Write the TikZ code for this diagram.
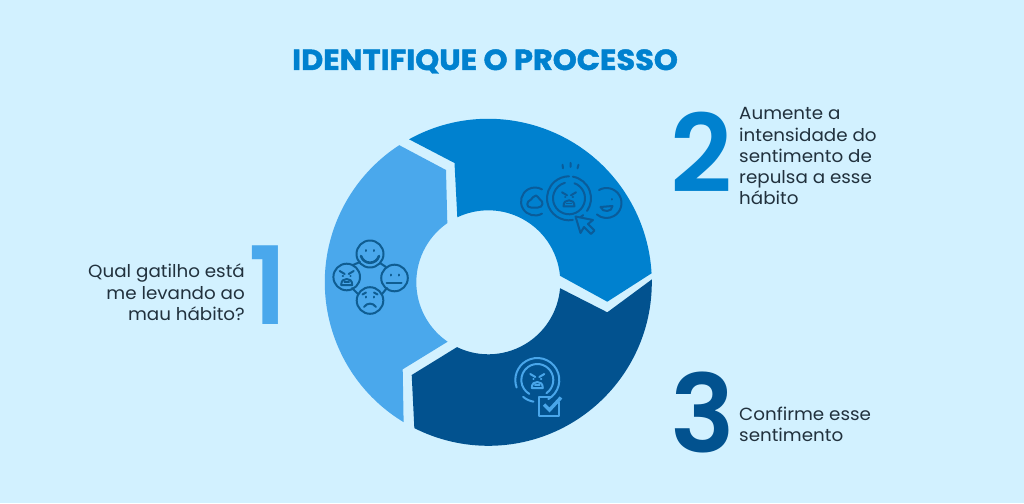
\documentclass[tikz,border=0pt]{standalone}
\usepackage{fontspec}
\setmainfont[FakeStretch=1.04]{Poppins}
\newfontfamily\titlefont[FakeStretch=1.05,FakeBold=1.6]{Poppins Bold}
\newfontfamily\numfont{Poppins SemiBold}
\usetikzlibrary{calc}
\definecolor{bgblue}{HTML}{D2F1FF}
\definecolor{lightblue}{HTML}{4AA8EC}
\definecolor{midblue}{HTML}{0081CF}
\definecolor{darkblue}{HTML}{02528F}
\definecolor{inkone}{HTML}{0F5D92}
\definecolor{inktwo}{HTML}{0A5C9A}
\definecolor{inkthree}{HTML}{49A6EA}
\definecolor{bodyink}{HTML}{21313D}
\tikzset{
  x=1pt,y=-1pt,
  icon/.style={line width=2pt,line cap=round,line join=round,fill=none},
  titletext/.style={font=\fontsize{29}{30}\titlefont,text=midblue,inner sep=0pt,anchor=base},
  bignum/.style={font=\fontsize{108}{108}\numfont,inner sep=0pt,anchor=base},
  bodyleft/.style={font=\fontsize{17.6}{21.2}\selectfont,text=bodyink,align=left,inner sep=0pt,anchor=north west},
  bodyright/.style={font=\fontsize{17.6}{21.2}\selectfont,text=bodyink,align=right,inner sep=0pt,anchor=north east},
}
\newcommand{\angryface}{%
  \draw[icon] (-7,-6)--(-2,-3) (7,-6)--(2,-3);
  \draw[icon] (-4,-1.5)--(-3.6,-1.5) (4,-1.5)--(3.6,-1.5);
  \draw[icon] (-5.5,8) .. controls (-5.5,3.5) and (-3,2) .. (0,2) .. controls (3,2) and (5.5,3.5) .. (5.5,8) -- cycle;
  \draw[icon,line width=1.4pt] (-2.5,5)--(2.5,5);}
\begin{document}
\begin{tikzpicture}
\useasboundingbox (0,0) rectangle (1024,503);
\fill[bgblue] (0,0) rectangle (1024,503);
\node[titletext] (title) at (485,70) {IDENTIFIQUE O PROCESSO};

\coordinate (ctr) at (488.3,282.3);
\coordinate (noteA) at (454.5,163);
\coordinate (noteB) at (607.3,301.7);
\coordinate (noteC) at (607.3,312.3);
\coordinate (noteD) at (411.7,375);
\coordinate (noteE) at (446,170);
\coordinate (noteF) at (402.7,369.3);
\begin{scope}[shift={(ctr)}]
\fill[midblue] (-119:163.5) arc[start angle=-119,end angle=-3.15,radius=163.5] -- (noteB)
  -- (-5.2:72) arc[start angle=-5.2,end angle=-115.5,radius=72] -- (noteA) -- cycle;
\fill[darkblue] (-1:163.5) arc[start angle=-1,end angle=116.9,radius=163.5] -- (noteD)
  -- (115.8:72) arc[start angle=115.8,end angle=4.7,radius=72] -- (noteC) -- cycle;
\fill[lightblue] (121.2:163.5) arc[start angle=121.2,end angle=237,radius=163.5] -- (noteE)
  -- (235.3:72) arc[start angle=235.3,end angle=124.4,radius=72] -- (noteF) -- cycle;
\end{scope}

% icon in segment 1
\begin{scope}[inkone]
\begin{scope}[shift={(370,254)}]
  \draw[icon] (0,0) circle[radius=13.5];
  \draw[icon] (-4,-4)--(-4,-3) (4,-4)--(4,-3);
  \draw[icon,line width=2.6pt] (-9,2) .. controls (-6,11) and (6,11) .. (9,2);
\end{scope}
\begin{scope}[shift={(346.7,277)}]
  \draw[icon] (0,0) circle[radius=13.3];
  \angryface
\end{scope}
\begin{scope}[shift={(394.5,278)}]
  \draw[icon] (0,0) circle[radius=13.3];
  \draw[icon] (-4,-3.5)--(-4,-2.5) (4,-3.5)--(4,-2.5);
  \draw[icon] (-8,4.5)--(7,4.5);
\end{scope}
\begin{scope}[shift={(370,300.5)}]
  \draw[icon] (0,0) circle[radius=13.3];
  \draw[icon] (-4,-4)--(-4,-3) (4,-4)--(4,-3);
  \draw[icon] (-7.5,-6)--(-4,-8) (7.5,-6)--(4,-8);
  \draw[icon] (-6,6.5) .. controls (-3,2) and (3,2) .. (6,6.5);
\end{scope}
\draw[icon] (353,265)--(360,262) (380,263)--(386,267) (387,288)--(382,294) (358,294)--(352,288);
\end{scope}

% icon in segment 2
\begin{scope}[inktwo]
\begin{scope}[shift={(569,198.3)}]
  \draw[icon] (-80:22) arc[start angle=-80,end angle=35,radius=22];
  \draw[icon] (50:22) arc[start angle=50,end angle=58,radius=22];
  \draw[icon] (80:22) arc[start angle=80,end angle=270,radius=22];
  \draw[icon] (-70:16) arc[start angle=-70,end angle=255,radius=16];
  \angryface
  \draw[icon] (-6.5,-33.5)--(-6,-30) (1.5,-35.5)--(1.5,-31.5) (9.5,-33.5)--(8.5,-30);
\end{scope}
\begin{scope}[shift={(535,201.5)}]
  \draw[icon] (60:14) arc[start angle=60,end angle=300,radius=14];
  \draw[icon] (-4,-2) .. controls (-2,-3) and (-2,-6) .. (1,-6) .. controls (3,-6) and (3,-3) .. (5,-2) .. controls (9,0) and (8,6) .. (3,6) -- (-4,6) .. controls (-9,6) and (-9,0) .. (-4,-2) -- cycle;
\end{scope}
\begin{scope}[shift={(606.5,203)}]
  \draw[icon] (-120:15) arc[start angle=-120,end angle=130,radius=15];
  \draw[icon] (5,-4)--(5,-3.5);
  \draw[icon] (-6,4) -- (6,3) .. controls (6,9) and (-4,10) .. (-6,4) -- cycle;
\end{scope}
\draw[icon] (575.5,216.5) -- (580.5,233) -- (584,227) -- (591,234) -- (594.5,230.5) -- (588,224) -- (593,220) -- cycle;
\end{scope}

% icon in segment 3
\begin{scope}[inkthree]
\begin{scope}[shift={(537.3,380)}]
  \draw[icon] (60:22) arc[start angle=60,end angle=-200,radius=22];
  \draw[icon] (100:22) arc[start angle=100,end angle=130,radius=22];
  \draw[icon] (55:16) arc[start angle=55,end angle=-240,radius=16];
  \angryface
\end{scope}
\draw[icon] (559,402) -- (559,415.5) -- (538.5,415.5) -- (538.5,397) -- (551,397);
\draw[line width=3.4pt,line join=miter] (544,404.5) -- (549.5,410) -- (561,397.5);
\end{scope}

% numbers
\node[bignum,text=lightblue] (numone) at (268,324) {1};
\node[bignum,text=midblue] (numtwo) at (701,192) {2};
\node[bignum,text=darkblue] (numthree) at (703,452) {3};

% texts
\node[bodyright] (textone) at (245,264) {Qual gatilho está\\me levando ao\\mau hábito?};
\node[bodyleft] (texttwo) at (739,107.5) {Aumente a\\intensidade do\\sentimento de\\repulsa a esse\\hábito};
\node[bodyleft] (textthree) at (739,407) {Confirme esse\\sentimento};
\end{tikzpicture}
\end{document}
